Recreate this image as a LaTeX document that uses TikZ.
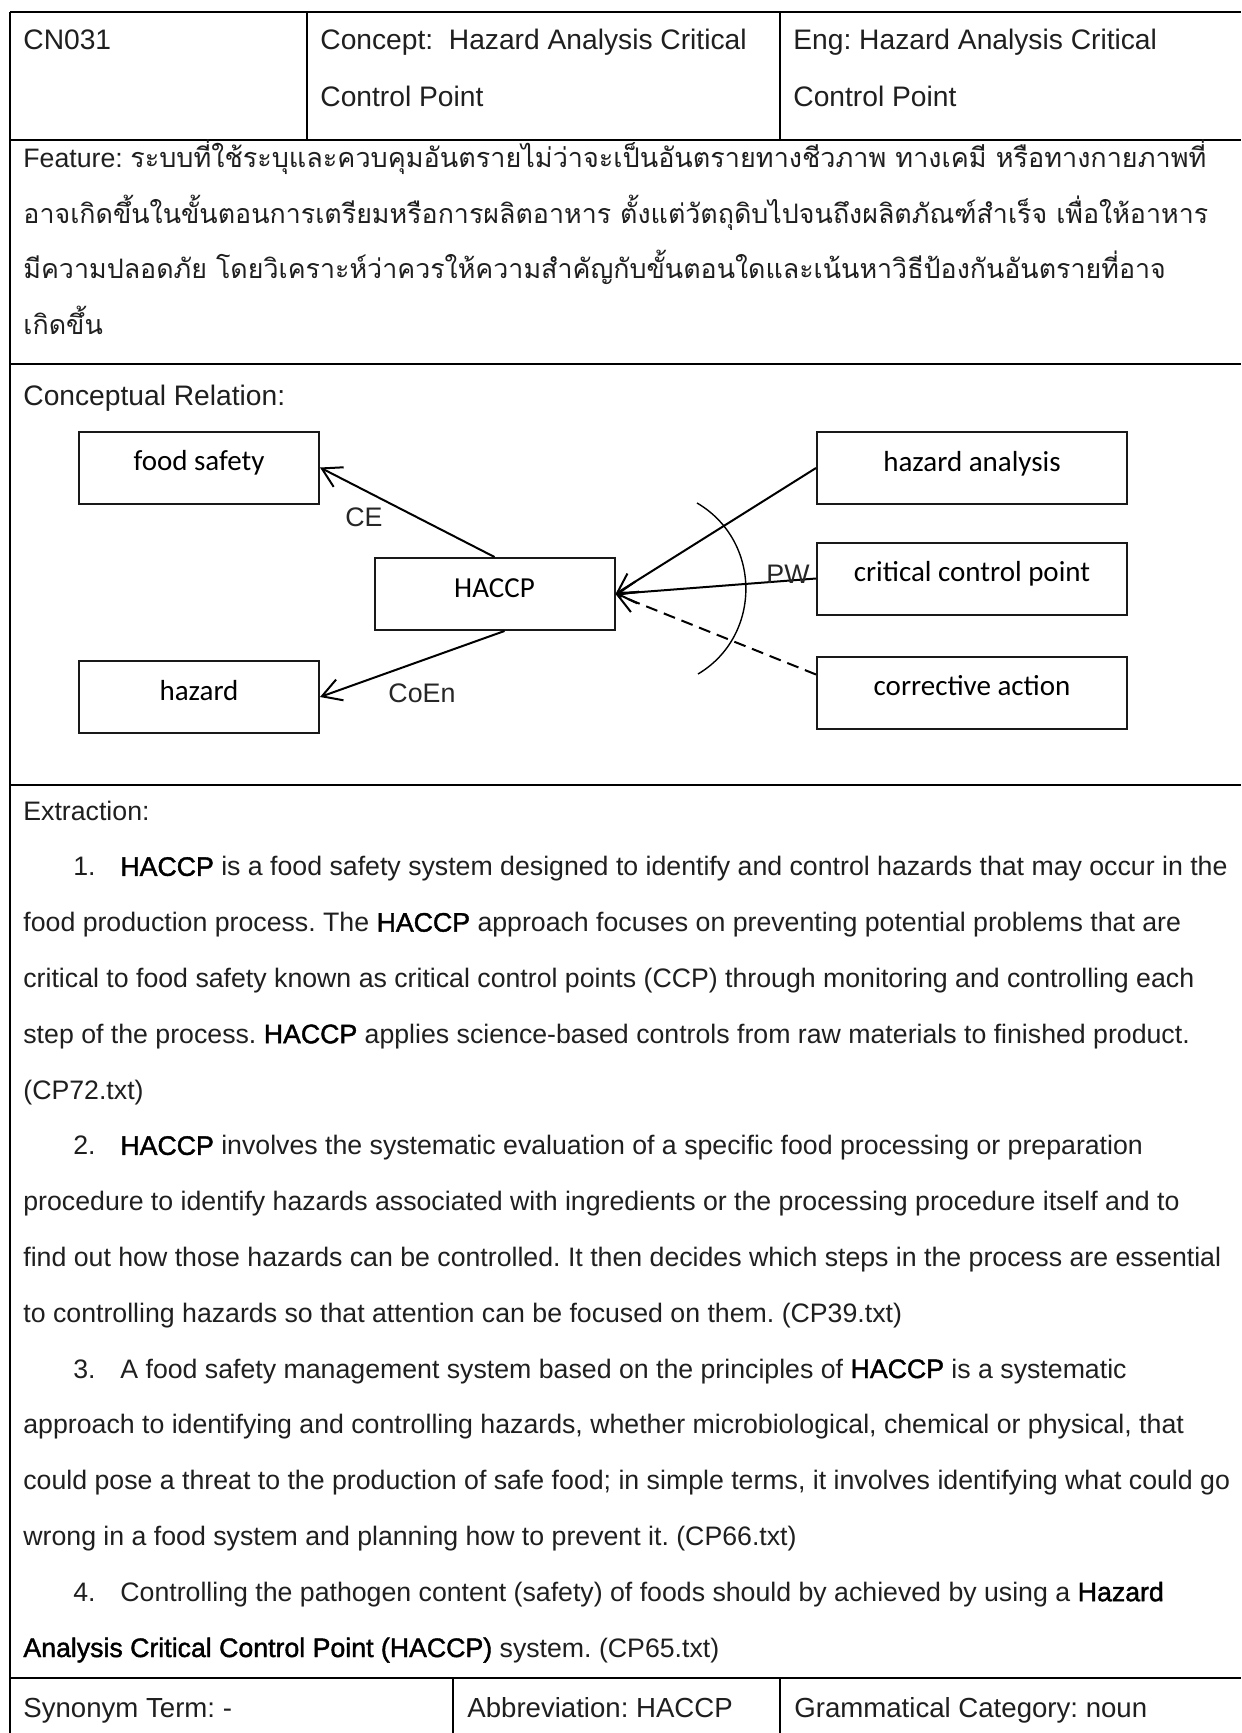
\documentclass[tikz,border=0pt]{standalone}
\usepackage{fontspec}
\setmainfont{Liberation Sans}
\newfontfamily\thaifont[Script=Thai]{Loma}
\newfontfamily\boxfont{Carlito}
\newfontfamily\termfont[FakeBold=1.5]{Liberation Sans}
\usetikzlibrary{arrows.meta}
\frenchspacing

% key terms in the extraction text
\newcommand\keyterm[1]{{\termfont\color{black}#1}}

\tikzset{
  body/.style={inner sep=0pt, anchor=base west, text=black!88,
    font=\fontsize{13.35pt}{16pt}\selectfont},
  head/.style={body, font=\fontsize{14.1pt}{17pt}\selectfont},
  foot/.style={body, font=\fontsize{13.8pt}{17pt}\selectfont},
  thailine/.style={body, font=\thaifont\fontsize{13.4pt}{17pt}\selectfont},
  hrule/.style={line width=1.25pt, draw=black},
  vrule/.style={line width=0.75pt, draw=black},
  concept/.style={draw=black!90, line width=1pt, inner sep=0pt,
    minimum height=36pt, text height=10pt, text depth=7pt,
    font=\boxfont\fontsize{14.5pt}{17pt}\selectfont},
  small/.style={concept, minimum width=120pt},
  wide/.style={concept, minimum width=155pt},
  rel/.style={line width=1pt, draw=black,
    -{Straight Barb[length=9.5pt,width=11pt,line width=1pt]}},
  rellabel/.style={inner sep=0pt, text=black!85,
    font=\fontsize{13.4pt}{16pt}\selectfont},
}

\begin{document}
\begin{tikzpicture}[x=0.5pt,y=-0.5pt]
\useasboundingbox (0,0) rectangle (1241,1733);
\fill[white] (0,0) rectangle (1241,1733);

% ---- table frame ----
\foreach \yy in {12,140,364,785,1678}
  \draw[hrule] (10,\yy) -- (1241,\yy);
\draw[vrule] (10,12) -- (10,1733);
\draw[vrule] (307,12) -- (307,140);
\draw[vrule] (780,12) -- (780,140);
\draw[vrule] (453,1678) -- (453,1733);
\draw[vrule] (780,1678) -- (780,1733);

% ---- header row ----
\node[head] (cn) at (23,50) {CN031};
\node[head] (conceptA) at (320,50) {Concept:\ \ Hazard Analysis Critical};
\node[head] (conceptB) at (320,107) {Control Point};
\node[head] (engA) at (793,50) {Eng: Hazard Analysis Critical};
\node[head] (engB) at (793,107) {Control Point};

% ---- feature row ----
\node[body] (featA) at (23,168) {Feature: {\thaifont\fontsize{13.5pt}{17pt}\selectfont ระบบที่ใช้ระบุและควบคุมอันตรายไม่ว่าจะเป็นอันตรายทางชีวภาพ ทางเคมี หรือทางกายภาพที่}};
\node[thailine] (featB) at (23,224) {อาจเกิดขึ้นในขั้นตอนการเตรียมหรือการผลิตอาหาร ตั้งแต่วัตถุดิบไปจนถึงผลิตภัณฑ์สำเร็จ เพื่อให้อาหาร};
\node[thailine] (featC) at (23,279) {มีความปลอดภัย โดยวิเคราะห์ว่าควรให้ความสำคัญกับขั้นตอนใดและเน้นหาวิธีป้องกันอันตรายที่อาจ};
\node[thailine] (featD) at (23,335) {เกิดขึ้น};

% ---- conceptual relation row ----
\node[head] (crel) at (23,405) {Conceptual Relation:};

\node[small] (fs)    at (199,467.5) {food safety};
\node[small] (hz)    at (199,697)   {hazard};
\node[small] (haccp) at (494.5,594) {HACCP};
\node[wide]  (ha)    at (972,468)   {hazard analysis};
\node[wide]  (ccp)   at (972,578.5) {critical control point};
\node[wide]  (ca)    at (972,692.5) {corrective action};

\draw[rel] (haccp.north) -- (fs.east);
\draw[rel] ([xshift=5pt]haccp.south) -- (hz.east);
\draw[rel] (ha.west) -- (haccp.east);
\draw[rel] (ccp.west) -- (haccp.east);
\draw[rel, dash pattern=on 6pt off 3.5pt] ([yshift=9pt]ca.west) -- (haccp.east);

% part-whole bracket across the three incoming links
\coordinate (arcT) at (697,503);
\coordinate (arcB) at (698,674);
\coordinate (arcC1) at (762,541);
\coordinate (arcC2) at (762,636);
\draw[line width=0.7pt] (arcT) .. controls (arcC1) and (arcC2) .. (arcB);

\node[rellabel] (lce)   at (364,517) {CE};
\node[rellabel] (lcoen) at (422,693) {CoEn};
\node[rellabel] (lpw)   at (788,574) {PW};

% ---- extraction row ----
\node[body] (ex0) at (23,820) {Extraction:};
\node[body] (n1) at (73,875.8) {1.};
\node[body] (ex1) at (120,875.8) {\keyterm{HACCP} is a food safety system designed to identify and control hazards that may occur in the};
\node[body] (ex2) at (23,931.6) {food production process. The \keyterm{HACCP} approach focuses on preventing potential problems that are};
\node[body] (ex3) at (23,987.4) {critical to food safety known as critical control points (CCP) through monitoring and controlling each};
\node[body] (ex4) at (23,1043.2) {step of the process. \keyterm{HACCP} applies science-based controls from raw materials to finished product.};
\node[body] (ex5) at (23,1099) {(CP72.txt)};
\node[body] (n2) at (73,1154.8) {2.};
\node[body] (ex6) at (120,1154.8) {\keyterm{HACCP} involves the systematic evaluation of a specific food processing or preparation};
\node[body] (ex7) at (23,1210.6) {procedure to identify hazards associated with ingredients or the processing procedure itself and to};
\node[body] (ex8) at (23,1266.4) {find out how those hazards can be controlled. It then decides which steps in the process are essential};
\node[body] (ex9) at (23,1322.2) {to controlling hazards so that attention can be focused on them. (CP39.txt)};
\node[body] (n3) at (73,1378) {3.};
\node[body] (ex10) at (120,1378) {A food safety management system based on the principles of \keyterm{HACCP} is a systematic};
\node[body] (ex11) at (23,1433.8) {approach to identifying and controlling hazards, whether microbiological, chemical or physical, that};
\node[body] (ex12) at (23,1489.6) {could pose a threat to the production of safe food; in simple terms, it involves identifying what could go};
\node[body] (ex13) at (23,1545.4) {wrong in a food system and planning how to prevent it. (CP66.txt)};
\node[body] (n4) at (73,1601.2) {4.};
\node[body] (ex14) at (120,1601.2) {Controlling the pathogen content (safety) of foods should by achieved by using a \keyterm{Hazard}};
\node[body] (ex15) at (23,1657) {\keyterm{Analysis Critical Control Point (HACCP)} system. (CP65.txt)};

% ---- bottom row ----
\node[foot] (syn) at (23,1717) {Synonym Term: -};
\node[foot] (abbr) at (467,1717) {Abbreviation: HACCP};
\node[foot] (gram) at (794,1717) {Grammatical Category: noun};
\end{tikzpicture}
\end{document}
